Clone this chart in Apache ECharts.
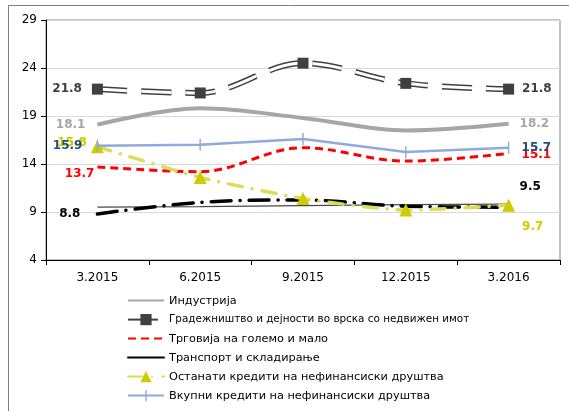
<!DOCTYPE html>
<html>
<head>
<meta charset="utf-8">
<script src="https://cdn.jsdelivr.net/npm/echarts@6/dist/echarts.min.js"></script>
<style>
  html, body { margin: 0; padding: 0; background: #fff; }
  #main { width: 569px; height: 411px; }
</style>
</head>
<body>
<div id="main"></div>
<script>
var categories = ['3.2015', '6.2015', '9.2015', '12.2015', '3.2016'];

var industry     = [18.1, 19.8, 18.8, 17.5, 18.2];
var construction = [21.8, 21.4, 24.5, 22.4, 21.8];
var trade        = [13.7, 13.2, 15.7, 14.3, 15.1];
var transport    = [8.8, 10.0, 10.25, 9.6, 9.5];
var otherLoans   = [15.8, 12.6, 10.4, 9.2, 9.7];
var totalLoans   = [15.9, 16.0, 16.6, 15.25, 15.7];
var thinLine     = [9.5, 9.57, 9.67, 9.76, 9.83];

var names = [
    'Индустрија',
    'Градежништво и дејности во врска со недвижен имот',
    'Трговија на големо и мало',
    'Транспорт и складирање',
    'Останати кредити на нефинансиски друштва',
    'Вкупни кредити на нефинансиски друштва'
];

// thin vertical tick, square bounding box so it keeps its shape in the legend too
var tickSymbol = 'path://M0,5M10,5M4.4,0h1.2v10h-1.2z';

var myChart = echarts.init(document.getElementById('main'));

// only first and last points get a value label
function withEndLabels(values, color, left, right) {
    var last = values.length - 1;
    return values.map(function (v, i) {
        var item = { value: v };
        if (i === 0 || i === last) {
            var cfg = i === 0 ? left : right;
            item.label = {
                show: true,
                position: i === 0 ? 'left' : 'right',
                distance: cfg[0],
                offset: [0, cfg[1]],
                color: color,
                fontWeight: 'bold',
                fontSize: 12,
                fontFamily: 'DejaVu Sans'
            };
        }
        return item;
    });
}

var option = {
    backgroundColor: '#fff',
    animation: false,
    grid: {
        left: 46,
        right: 9,
        top: 20,
        bottom: 151,
        show: true,
        borderColor: '#868686',
        borderWidth: 1
    },
    legend: {
        orient: 'vertical',
        left: 127,
        top: 295,
        padding: 0,
        itemWidth: 36,
        itemHeight: 14,
        itemGap: 7.8,
        textStyle: { fontFamily: 'DejaVu Sans', fontSize: 11.3, color: '#000' },
        data: [
            { name: names[0], itemStyle: { opacity: 0 } },
            { name: names[1], textStyle: { fontSize: 10.4 } },
            { name: names[2], itemStyle: { opacity: 0 } },
            { name: names[3], itemStyle: { opacity: 0 }, lineStyle: { type: 'solid' } },
            { name: names[4] },
            { name: names[5] }
        ]
    },
    xAxis: {
        type: 'category',
        data: categories,
        boundaryGap: true,
        axisLine: { lineStyle: { color: '#000', width: 1 } },
        axisTick: { show: true, inside: false, length: 5, lineStyle: { color: '#000' } },
        axisLabel: { color: '#000', fontSize: 12, fontFamily: 'DejaVu Sans', margin: 12 },
        splitLine: { show: false }
    },
    yAxis: {
        type: 'value',
        min: 4,
        max: 29,
        interval: 5,
        axisLine: { show: true, lineStyle: { color: '#000', width: 1 } },
        axisTick: { show: true, inside: false, length: 5, lineStyle: { color: '#000' } },
        axisLabel: { color: '#000', fontSize: 12, fontFamily: 'DejaVu Sans', margin: 9 },
        splitLine: { show: true, lineStyle: { color: '#d9d9d9', width: 1 } }
    },
    series: [
        {
            name: '',
            type: 'line',
            data: thinLine,
            symbol: 'none',
            z: 1,
            lineStyle: { color: '#4a4a4a', width: 1.2 }
        },
        {
            name: names[0],
            type: 'line',
            smooth: 0.35,
            symbol: 'circle',
            symbolSize: 0,
            showSymbol: true,
            z: 2,
            data: withEndLabels(industry, '#a6a6a6', [12, 0], [11, 0]),
            itemStyle: { color: '#a6a6a6' },
            lineStyle: { color: '#a6a6a6', width: 4 }
        },
        {
            name: names[1],
            type: 'line',
            smooth: 0.35,
            symbol: 'rect',
            symbolSize: 0,
            z: 3,
            data: construction,
            itemStyle: { color: '#404040' },
            lineStyle: { color: '#404040', width: 6, type: [30, 14] }
        },
        {
            name: names[1],
            type: 'line',
            smooth: 0.35,
            symbol: 'none',
            z: 4,
            data: construction,
            itemStyle: { color: '#404040' },
            lineStyle: { color: '#ffffff', width: 3, type: [30, 14] }
        },
        {
            name: names[1],
            type: 'line',
            symbol: 'rect',
            symbolSize: 11,
            showSymbol: true,
            z: 5,
            data: withEndLabels(construction, '#404040', [10, 0], [8, 0]),
            itemStyle: { color: '#404040' },
            lineStyle: { width: 0, opacity: 0 }
        },
        {
            name: names[2],
            type: 'line',
            smooth: 0.35,
            symbol: 'circle',
            symbolSize: 0,
            showSymbol: true,
            z: 6,
            data: withEndLabels(trade, '#ff0000', [3, 7], [13, 1]),
            itemStyle: { color: '#ff0000' },
            lineStyle: { color: '#ff0000', width: 3, type: [8, 5] }
        },
        {
            name: names[3],
            type: 'line',
            smooth: 0.35,
            symbol: 'circle',
            symbolSize: 0,
            showSymbol: true,
            z: 7,
            data: withEndLabels(transport, '#000000', [17, 0], [11, -20]),
            itemStyle: { color: '#000000' },
            lineStyle: { color: '#000000', width: 3.5, type: [20, 9, 0.1, 9], cap: 'round' }
        },
        {
            name: names[4],
            type: 'line',
            smooth: 0.2,
            symbol: 'triangle',
            symbolSize: 13,
            z: 8,
            data: withEndLabels(otherLoans, '#cccc00', [4, -4], [7, 22]),
            itemStyle: { color: '#cccc00' },
            lineStyle: { color: '#dcdc55', width: 3.5, type: [14, 10, 0.1, 10], cap: 'round' }
        },
        {
            name: names[5],
            type: 'line',
            symbol: tickSymbol,
            symbolSize: 12,
            z: 9,
            data: withEndLabels(totalLoans, '#1f4e79', [9, 0], [7, 0]),
            itemStyle: { color: '#8faadc' },
            lineStyle: { color: '#8faadc', width: 2.5 }
        }
    ],
    graphic: [
        {
            type: 'rect',
            shape: { x: 8.5, y: 5.5, width: 600, height: 500 },
            style: { fill: 'none', stroke: '#7f7f7f', lineWidth: 1 },
            silent: true,
            z: 100
        }
    ]
};

myChart.setOption(option);
</script>
</body>
</html>
